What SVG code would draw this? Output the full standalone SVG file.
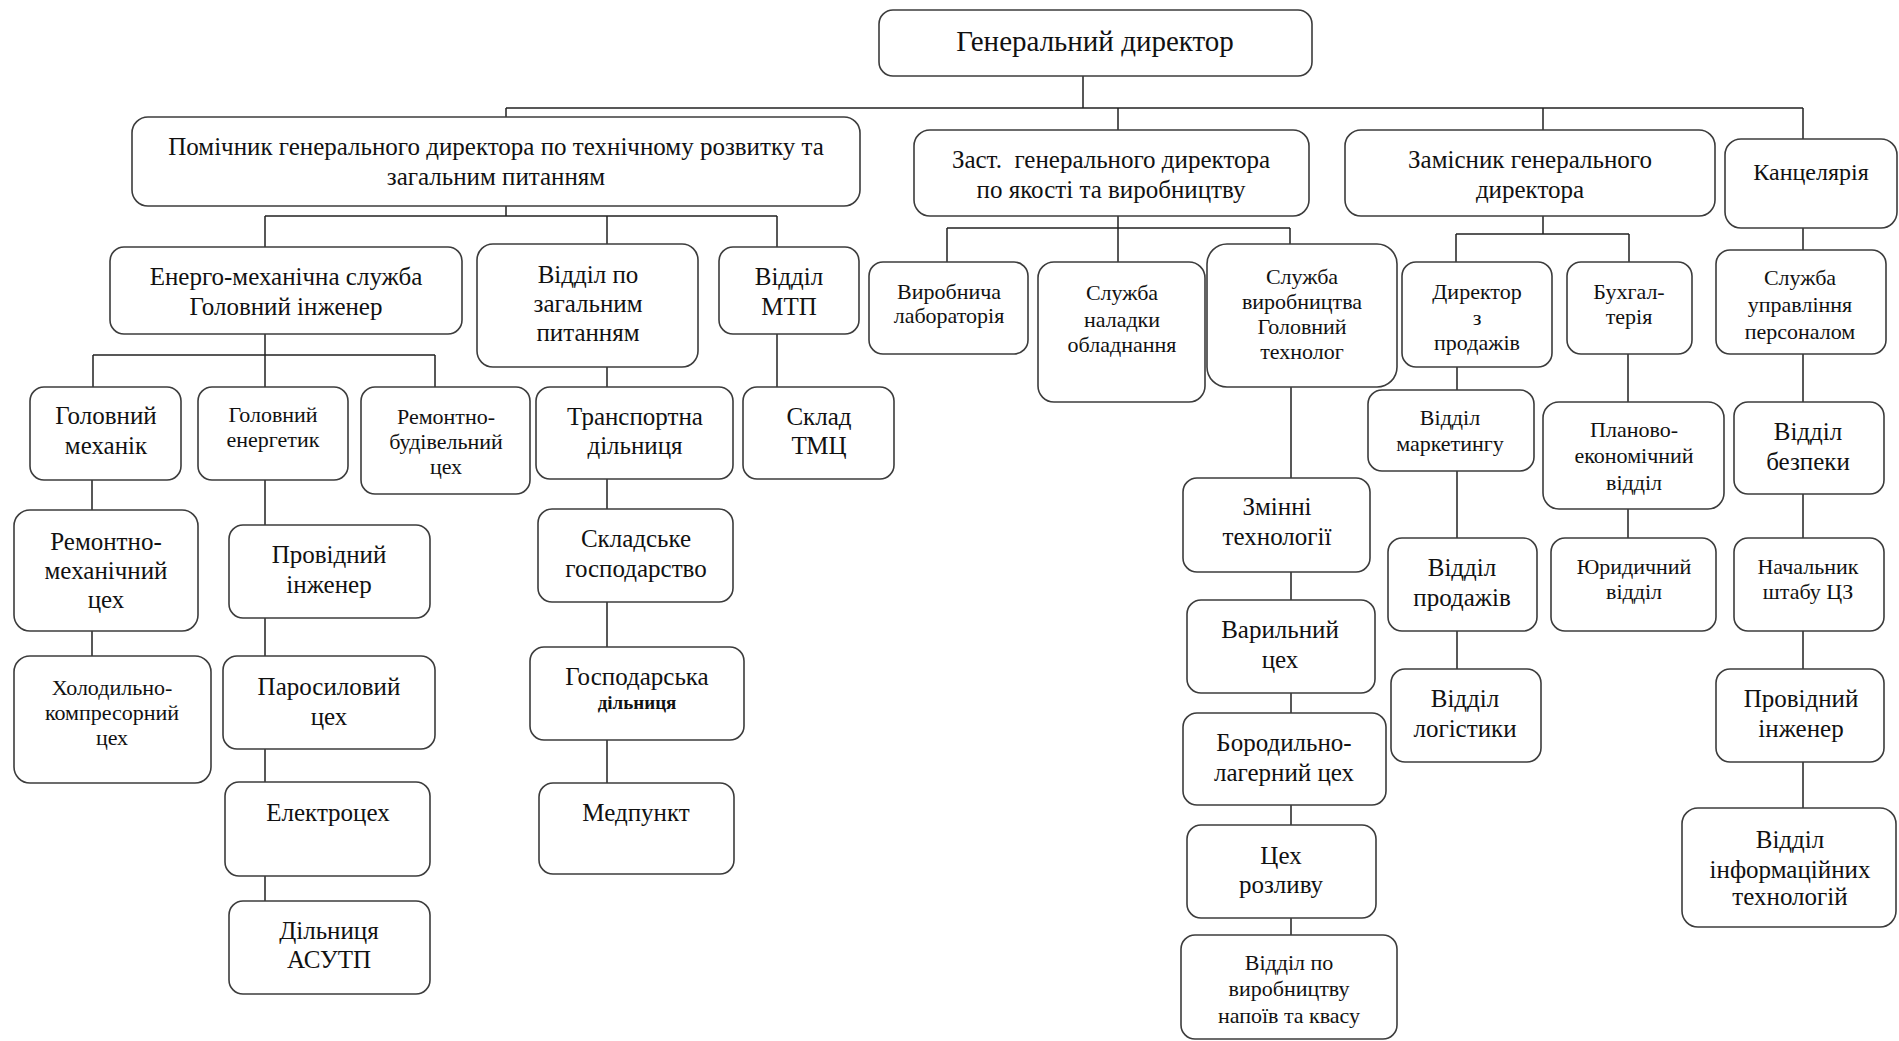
<svg xmlns="http://www.w3.org/2000/svg" width="1899" height="1041" viewBox="0 0 1899 1041">
<style>
rect.b{fill:#fff;stroke:#3c3c3c;stroke-width:1.6}
text{font-family:"Liberation Serif","Times New Roman",serif;fill:#111;text-anchor:middle}
.f29{font-size:29px}.f25{font-size:25px}.f24{font-size:24px}.f22{font-size:22px}.f19{font-size:19px;font-weight:bold}
#connectors path{fill:none;stroke:#222;stroke-width:1.5}
</style>
<rect width="1899" height="1041" fill="#fff"/>
<g id="connectors">
<path d="M1083 76V108M506 108H1803M506 108V117M1118 108V130M1543 108V130M1803 108V139"/>
<path d="M506 206V216M265 216H777M265 216V247M607 216V244M777 216V247"/>
<path d="M265 334V355M93 355H435M93 355V387M265 355V387M435 355V387"/>
<path d="M92 480V510M92 631V656"/>
<path d="M265 480V525M265 618V656M265 749V782M265 876V901"/>
<path d="M607 367V387M607 479V509M607 602V647M607 740V783"/>
<path d="M777 334V387"/>
<path d="M1118 216V228M947 228H1290M947 228V262M1118 228V262M1290 228V244"/>
<path d="M1291 387V478M1291 572V600M1291 693V713M1291 805V825M1291 918V935"/>
<path d="M1543 216V234M1456 234H1629M1456 234V262M1629 234V262"/>
<path d="M1457 367V390M1457 471V538M1457 631V669"/>
<path d="M1628 354V402M1628 509V538"/>
<path d="M1803 228V250M1803 354V402M1803 494V538M1803 631V669M1803 762V808"/>
</g>
<g id="n1"><rect class="b" x="879" y="10" width="433" height="66" rx="14"/><text class="f29" x="1095" y="51">Генеральний директор</text></g>
<g id="n2"><rect class="b" x="132" y="117" width="728" height="89" rx="16"/><text class="f25" x="496"><tspan x="496" y="155">Помічник генерального директора по технічному розвитку та</tspan><tspan x="496" y="185">загальним питанням</tspan></text></g>
<g id="n3"><rect class="b" x="914" y="130" width="395" height="86" rx="16"/><text class="f25" x="1111" style="white-space:pre"><tspan x="1111" y="168">Заст.  генерального директора</tspan><tspan x="1111" y="198">по якості та виробництву</tspan></text></g>
<g id="n4"><rect class="b" x="1345" y="130" width="370" height="86" rx="16"/><text class="f25"><tspan x="1530" y="168">Замісник генерального</tspan><tspan x="1530" y="198">директора</tspan></text></g>
<g id="n5"><rect class="b" x="1725" y="139" width="172" height="89" rx="16"/><text class="f24" x="1811" y="180">Канцелярія</text></g>
<g id="n6"><rect class="b" x="110" y="247" width="352" height="87" rx="14"/><text class="f25"><tspan x="286" y="285">Енерго-механічна служба</tspan><tspan x="286" y="315">Головний інженер</tspan></text></g>
<g id="n7"><rect class="b" x="477" y="244" width="221" height="123" rx="16"/><text class="f25"><tspan x="588" y="283">Відділ по</tspan><tspan x="588" y="312">загальним</tspan><tspan x="588" y="341">питанням</tspan></text></g>
<g id="n8"><rect class="b" x="719" y="247" width="140" height="87" rx="14"/><text class="f25"><tspan x="789" y="285">Відділ</tspan><tspan x="789" y="315">МТП</tspan></text></g>
<g id="n9"><rect class="b" x="30" y="387" width="151" height="93" rx="14"/><text class="f25"><tspan x="106" y="424">Головний</tspan><tspan x="106" y="454">механік</tspan></text></g>
<g id="n10"><rect class="b" x="198" y="387" width="150" height="93" rx="14"/><text class="f22"><tspan x="273" y="422">Головний</tspan><tspan x="273" y="447">енергетик</tspan></text></g>
<g id="n11"><rect class="b" x="361" y="387" width="169" height="107" rx="14"/><text class="f22"><tspan x="446" y="424">Ремонтно-</tspan><tspan x="446" y="449">будівельний</tspan><tspan x="446" y="474">цех</tspan></text></g>
<g id="n12"><rect class="b" x="536" y="387" width="197" height="92" rx="14"/><text class="f25"><tspan x="635" y="425">Транспортна</tspan><tspan x="635" y="454">дільниця</tspan></text></g>
<g id="n13"><rect class="b" x="743" y="387" width="151" height="92" rx="14"/><text class="f25"><tspan x="819" y="425">Склад</tspan><tspan x="819" y="454">ТМЦ</tspan></text></g>
<g id="n14"><rect class="b" x="14" y="510" width="184" height="121" rx="16"/><text class="f25"><tspan x="106" y="550">Ремонтно-</tspan><tspan x="106" y="579">механічний</tspan><tspan x="106" y="608">цех</tspan></text></g>
<g id="n15"><rect class="b" x="229" y="525" width="201" height="93" rx="14"/><text class="f25"><tspan x="329" y="563">Провідний</tspan><tspan x="329" y="593">інженер</tspan></text></g>
<g id="n16"><rect class="b" x="538" y="509" width="195" height="93" rx="14"/><text class="f25"><tspan x="636" y="547">Складське</tspan><tspan x="636" y="577">господарство</tspan></text></g>
<g id="n17"><rect class="b" x="14" y="656" width="197" height="127" rx="16"/><text class="f22"><tspan x="112" y="695">Холодильно-</tspan><tspan x="112" y="720">компресорний</tspan><tspan x="112" y="745">цех</tspan></text></g>
<g id="n18"><rect class="b" x="223" y="656" width="212" height="93" rx="14"/><text class="f25"><tspan x="329" y="695">Паросиловий</tspan><tspan x="329" y="725">цех</tspan></text></g>
<g id="n19"><rect class="b" x="530" y="647" width="214" height="93" rx="14"/><text><tspan class="f25" x="637" y="685">Господарська</tspan><tspan class="f19" x="637" y="709">дільниця</tspan></text></g>
<g id="n20"><rect class="b" x="225" y="782" width="205" height="94" rx="14"/><text class="f25" x="328" y="821">Електроцех</text></g>
<g id="n21"><rect class="b" x="539" y="783" width="195" height="91" rx="14"/><text class="f25" x="636" y="821">Медпункт</text></g>
<g id="n22"><rect class="b" x="229" y="901" width="201" height="93" rx="14"/><text class="f25"><tspan x="329" y="939">Дільниця</tspan><tspan x="329" y="968">АСУТП</tspan></text></g>
<g id="n23"><rect class="b" x="869" y="262" width="159" height="92" rx="14"/><text class="f22"><tspan x="949" y="299">Виробнича</tspan><tspan x="949" y="323">лабораторія</tspan></text></g>
<g id="n24"><rect class="b" x="1038" y="262" width="167" height="140" rx="16"/><text class="f22"><tspan x="1122" y="300">Служба</tspan><tspan x="1122" y="327">наладки</tspan><tspan x="1122" y="352">обладнання</tspan></text></g>
<g id="n25"><rect class="b" x="1207" y="244" width="190" height="143" rx="20"/><text class="f22"><tspan x="1302" y="284">Служба</tspan><tspan x="1302" y="309">виробництва</tspan><tspan x="1302" y="334">Головний</tspan><tspan x="1302" y="359">технолог</tspan></text></g>
<g id="n26"><rect class="b" x="1402" y="262" width="150" height="105" rx="14"/><text class="f22"><tspan x="1477" y="299">Директор</tspan><tspan x="1477" y="325">з</tspan><tspan x="1477" y="350">продажів</tspan></text></g>
<g id="n27"><rect class="b" x="1567" y="262" width="125" height="92" rx="14"/><text class="f22"><tspan x="1629" y="299">Бухгал-</tspan><tspan x="1629" y="324">терія</tspan></text></g>
<g id="n28"><rect class="b" x="1716" y="250" width="170" height="104" rx="14"/><text class="f22"><tspan x="1800" y="285">Служба</tspan><tspan x="1800" y="312">управління</tspan><tspan x="1800" y="339">персоналом</tspan></text></g>
<g id="n29"><rect class="b" x="1183" y="478" width="187" height="94" rx="14"/><text class="f25"><tspan x="1277" y="515">Змінні</tspan><tspan x="1277" y="545">технології</tspan></text></g>
<g id="n30"><rect class="b" x="1368" y="390" width="166" height="81" rx="14"/><text class="f22"><tspan x="1450" y="425">Відділ</tspan><tspan x="1450" y="451">маркетингу</tspan></text></g>
<g id="n31"><rect class="b" x="1543" y="402" width="181" height="107" rx="16"/><text class="f22"><tspan x="1634" y="437">Планово-</tspan><tspan x="1634" y="463">економічний</tspan><tspan x="1634" y="490">відділ</tspan></text></g>
<g id="n32"><rect class="b" x="1734" y="402" width="150" height="92" rx="14"/><text class="f25"><tspan x="1808" y="440">Відділ</tspan><tspan x="1808" y="470">безпеки</tspan></text></g>
<g id="n33"><rect class="b" x="1388" y="538" width="149" height="93" rx="14"/><text class="f25"><tspan x="1462" y="576">Відділ</tspan><tspan x="1462" y="606">продажів</tspan></text></g>
<g id="n34"><rect class="b" x="1551" y="538" width="165" height="93" rx="14"/><text class="f22"><tspan x="1634" y="574">Юридичний</tspan><tspan x="1634" y="599">відділ</tspan></text></g>
<g id="n35"><rect class="b" x="1734" y="538" width="150" height="93" rx="14"/><text class="f22"><tspan x="1808" y="574">Начальник</tspan><tspan x="1808" y="599">штабу ЦЗ</tspan></text></g>
<g id="n36"><rect class="b" x="1187" y="600" width="188" height="93" rx="14"/><text class="f25"><tspan x="1280" y="638">Варильний</tspan><tspan x="1280" y="668">цех</tspan></text></g>
<g id="n37"><rect class="b" x="1391" y="669" width="150" height="93" rx="14"/><text class="f25"><tspan x="1465" y="707">Відділ</tspan><tspan x="1465" y="737">логістики</tspan></text></g>
<g id="n38"><rect class="b" x="1716" y="669" width="168" height="93" rx="14"/><text class="f25"><tspan x="1801" y="707">Провідний</tspan><tspan x="1801" y="737">інженер</tspan></text></g>
<g id="n39"><rect class="b" x="1183" y="713" width="203" height="92" rx="14"/><text class="f25"><tspan x="1284" y="751">Бородильно-</tspan><tspan x="1284" y="781">лагерний цех</tspan></text></g>
<g id="n40"><rect class="b" x="1187" y="825" width="189" height="93" rx="14"/><text class="f25"><tspan x="1281" y="864">Цех</tspan><tspan x="1281" y="893">розливу</tspan></text></g>
<g id="n41"><rect class="b" x="1181" y="935" width="216" height="104" rx="14"/><text class="f22"><tspan x="1289" y="970">Відділ по</tspan><tspan x="1289" y="996">виробництву</tspan><tspan x="1289" y="1023">напоїв та квасу</tspan></text></g>
<g id="n42"><rect class="b" x="1682" y="808" width="214" height="119" rx="16"/><text class="f25"><tspan x="1790" y="848">Відділ</tspan><tspan x="1790" y="878">інформаційних</tspan><tspan x="1790" y="905">технологій</tspan></text></g>
</svg>
